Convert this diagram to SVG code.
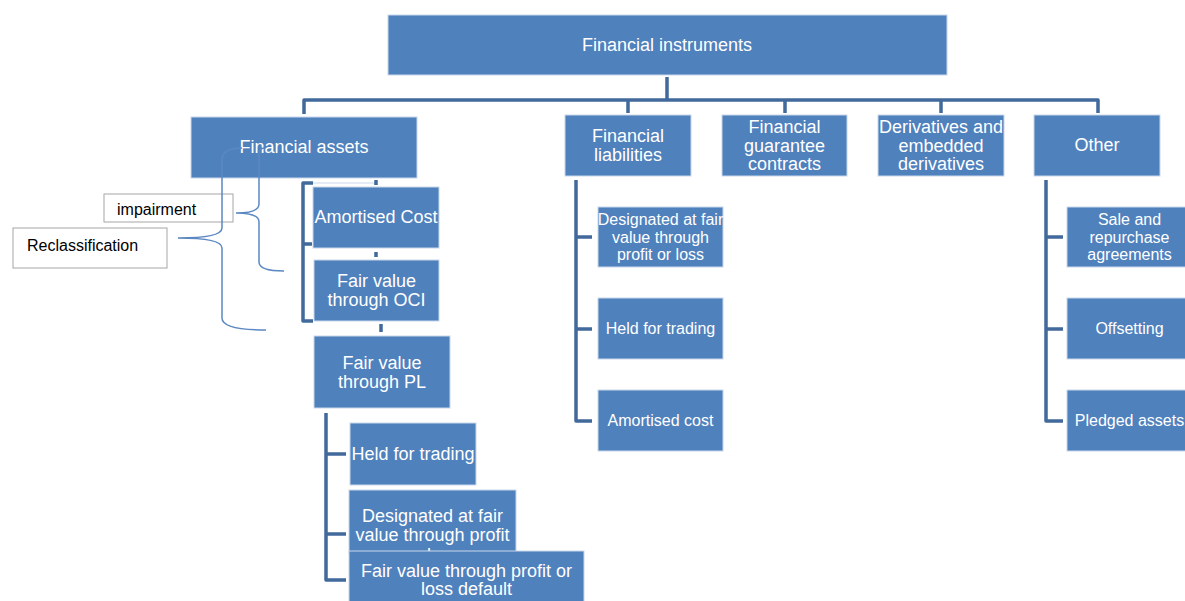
<svg xmlns="http://www.w3.org/2000/svg" width="1185" height="601" viewBox="0 0 1185 601">
  <style>
    .box { fill: #4f81bd; stroke: #c9d7ea; stroke-width: 1; }
    .note { fill: #ffffff; stroke: #a6a6a6; stroke-width: 1; }
    .t18 { font-family: "Liberation Sans", Arial, sans-serif; font-size: 18px; fill: #ffffff; text-anchor: middle; }
    .t16 { font-family: "Liberation Sans", Arial, sans-serif; font-size: 16px; fill: #ffffff; text-anchor: middle; }
    .nt { font-family: "Liberation Sans", Arial, sans-serif; font-size: 16px; fill: #000000; }
    .conn { fill: none; stroke: #41699c; stroke-width: 3.5; stroke-linejoin: round; }
    .thin { fill: none; stroke: #c9d7ea; stroke-width: 1; }
    .brace { fill: none; stroke: #5b88c3; stroke-width: 1.5; }
  </style>
  <defs>
    <clipPath id="clipDesig">
      <rect x="349" y="490" width="168" height="61"/>
    </clipPath>
  </defs>
  <rect width="1185" height="601" fill="#ffffff"/>

  <!-- connectors -->
  <g id="connectors">
    <path class="conn" d="M667 77 V100 M304 114 V100 H1098 V113 M628 100 V113 M785 100 V113 M941 100 V113"/>
    <line class="thin" x1="303" y1="183" x2="377" y2="183"/>
    <path class="conn" d="M313 183 H303 V321 H313 M303 244 H312"/>
    <path class="conn" d="M376 180 V185 M376 252 V257 M381 324 V332"/>
    <path class="conn" d="M576 180 V421 H592 M576 237 H592 M576 329 H592"/>
    <path class="conn" d="M1046 180 V421 H1063 M1046 237 H1063 M1046 329 H1063"/>
    <path class="conn" d="M326 413 V580 H346 M326 454 H346 M326 534 H346"/>
  </g>

  <!-- top level -->
  <g id="financial-instruments">
    <rect class="box" x="388" y="15" width="559" height="60"/>
    <text class="t18" x="667" y="51">Financial instruments</text>
  </g>

  <!-- second level -->
  <g id="financial-assets">
    <rect class="box" x="191" y="117" width="226" height="61"/>
    <text class="t18" x="304" y="153">Financial assets</text>
  </g>
  <g id="financial-liabilities">
    <rect class="box" x="565" y="115" width="126" height="61"/>
    <text class="t18" x="628" y="142">Financial</text>
    <text class="t18" x="628" y="161">liabilities</text>
  </g>
  <g id="financial-guarantee">
    <rect class="box" x="722" y="115" width="125" height="61"/>
    <text class="t18" x="784.5" y="133">Financial</text>
    <text class="t18" x="784.5" y="151.5">guarantee</text>
    <text class="t18" x="784.5" y="170">contracts</text>
  </g>
  <g id="derivatives">
    <rect class="box" x="878" y="115" width="126" height="61"/>
    <text class="t18" x="941" y="133">Derivatives and</text>
    <text class="t18" x="941" y="151.5">embedded</text>
    <text class="t18" x="941" y="170">derivatives</text>
  </g>
  <g id="other">
    <rect class="box" x="1034" y="115" width="126" height="61"/>
    <text class="t18" x="1097" y="151">Other</text>
  </g>

  <!-- financial assets categories -->
  <g id="amortised-cost-assets">
    <rect class="box" x="313" y="187" width="126" height="61"/>
    <text class="t18" x="376" y="223">Amortised Cost</text>
  </g>
  <g id="fv-oci">
    <rect class="box" x="314" y="260" width="125" height="61"/>
    <text class="t18" x="376.5" y="287">Fair value</text>
    <text class="t18" x="376.5" y="306">through OCI</text>
  </g>
  <g id="fv-pl">
    <rect class="box" x="314" y="336" width="136" height="72"/>
    <text class="t18" x="382" y="369">Fair value</text>
    <text class="t18" x="382" y="388">through PL</text>
  </g>
  <g id="held-for-trading-assets">
    <rect class="box" x="350" y="423" width="126" height="62"/>
    <text class="t18" x="413" y="460">Held for trading</text>
  </g>
  <g id="designated-assets">
    <rect class="box" x="349" y="490" width="167" height="64"/>
    <!-- third line runs past the box and is hidden by the box below -->
    <g clip-path="url(#clipDesig)">
      <text class="t18" x="432.5" y="522">Designated at fair</text>
      <text class="t18" x="432.5" y="541">value through profit</text>
      <text class="t18" x="432.5" y="561">or loss</text>
    </g>
  </g>
  <g id="fvpl-default">
    <rect class="box" x="349" y="551" width="235" height="55"/>
    <text class="t18" x="466.5" y="577">Fair value through profit or</text>
    <text class="t18" x="466.5" y="595">loss default</text>
  </g>

  <!-- financial liabilities categories -->
  <g id="designated-liabilities">
    <rect class="box" x="598" y="207" width="125" height="60"/>
    <text class="t16" x="660.5" y="225">Designated at fair</text>
    <text class="t16" x="660.5" y="243">value through</text>
    <text class="t16" x="660.5" y="260">profit or loss</text>
  </g>
  <g id="held-for-trading-liabilities">
    <rect class="box" x="598" y="298" width="125" height="61"/>
    <text class="t16" x="660.5" y="334">Held for trading</text>
  </g>
  <g id="amortised-cost-liabilities">
    <rect class="box" x="598" y="390" width="125" height="61"/>
    <text class="t16" x="660.5" y="426">Amortised cost</text>
  </g>

  <!-- other topics -->
  <g id="sale-repurchase">
    <rect class="box" x="1067" y="207" width="125" height="60"/>
    <text class="t16" x="1129.5" y="225">Sale and</text>
    <text class="t16" x="1129.5" y="243">repurchase</text>
    <text class="t16" x="1129.5" y="260">agreements</text>
  </g>
  <g id="offsetting">
    <rect class="box" x="1067" y="298" width="125" height="61"/>
    <text class="t16" x="1129.5" y="334">Offsetting</text>
  </g>
  <g id="pledged-assets">
    <rect class="box" x="1067" y="390" width="125" height="61"/>
    <text class="t16" x="1129.5" y="426">Pledged assets</text>
  </g>

  <!-- side notes with braces -->
  <g id="impairment">
    <rect class="note" x="104" y="194" width="129" height="28"/>
    <text class="nt" x="117" y="215">impairment</text>
    <path class="brace" d="M264 148 Q259 148 259 156 L259 204 Q259 213 236 213 Q259 213 259 222 L259 262 Q259 271 284 271"/>
  </g>
  <g id="reclassification">
    <rect class="note" x="13" y="228" width="154" height="40"/>
    <text class="nt" x="27" y="251">Reclassification</text>
    <path class="brace" d="M242 148 Q222 148 222 160 L222 228 Q222 238 178 238 Q222 238 222 248 L222 318 Q222 330 266 330"/>
  </g>
</svg>
